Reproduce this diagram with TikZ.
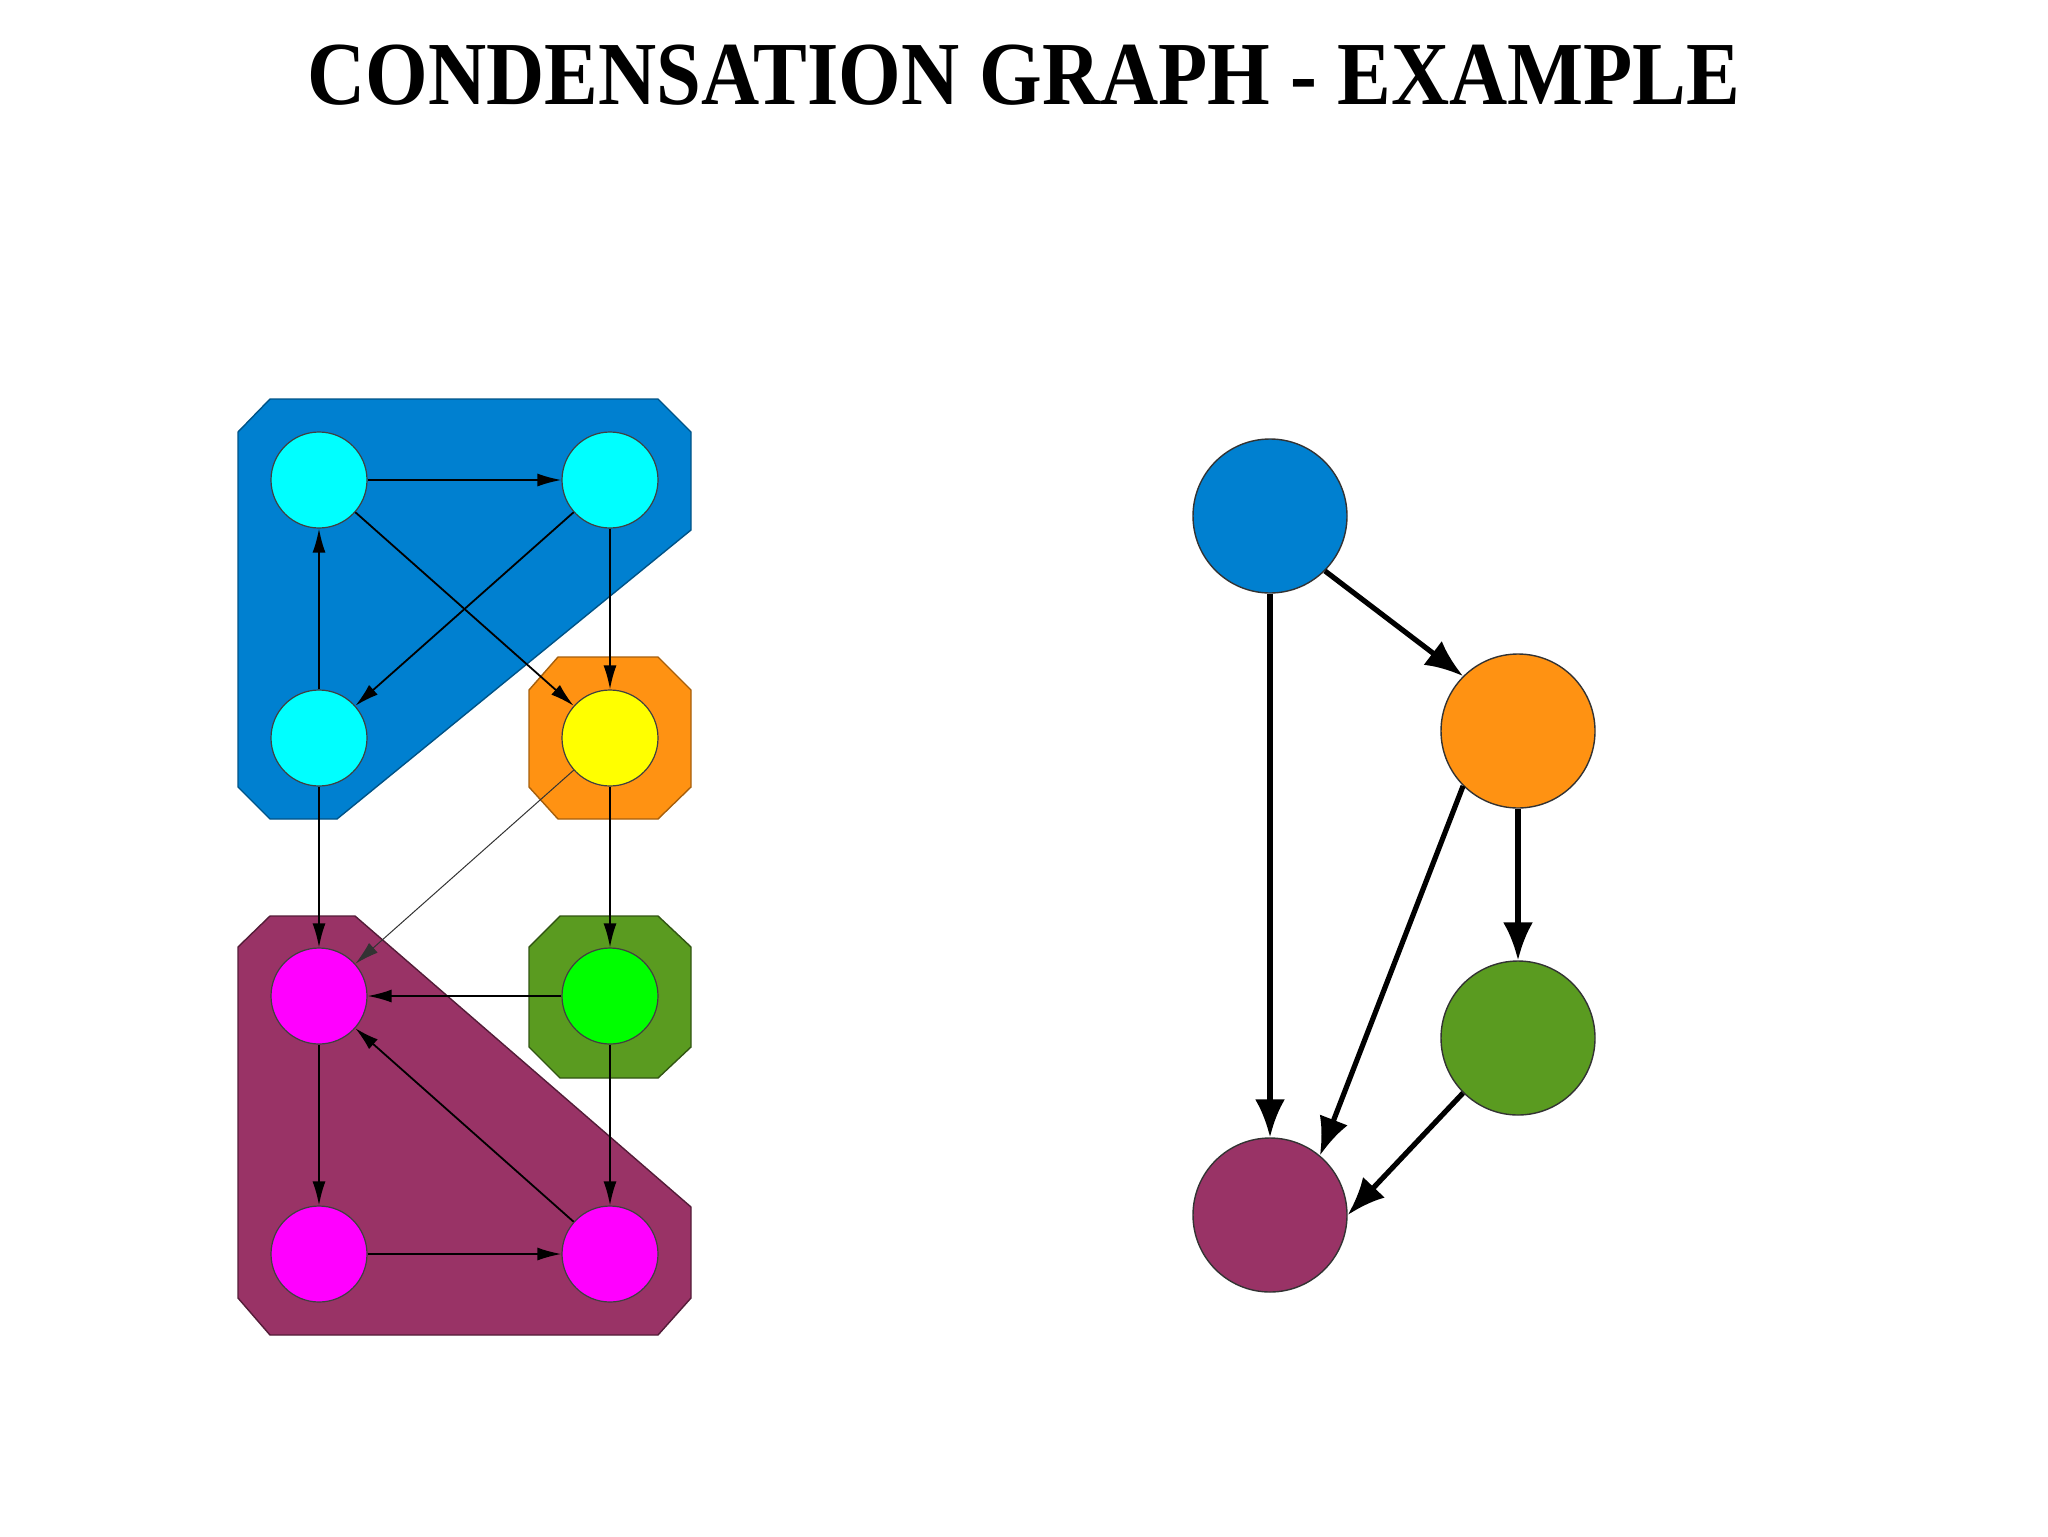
\documentclass[tikz,border=0pt]{standalone}
\usepackage{fontspec}
\setmainfont{Liberation Serif}
\usetikzlibrary{arrows.meta}
\definecolor{cblue}{RGB}{0,128,208}
\definecolor{ccyan}{RGB}{0,255,255}
\definecolor{cyel}{RGB}{255,255,0}
\definecolor{corange}{RGB}{255,146,18}
\definecolor{cgreen}{RGB}{90,155,32}
\definecolor{clime}{RGB}{0,255,0}
\definecolor{cpurple}{RGB}{153,51,102}
\definecolor{cmag}{RGB}{255,0,255}
\tikzset{
  vsmall/.style={circle,inner sep=0pt,minimum size=48pt,draw=black!75,line width=0.6pt},
  vbig/.style={circle,inner sep=0pt,minimum size=77pt,draw=black!80,line width=0.7pt},
  thinedge/.style={line width=0.9pt,-{Latex[length=12pt,width=6.5pt]}},
  faintedge/.style={line width=0.5pt,draw=black!80,-{Latex[length=12pt,width=6.5pt]}},
  thickedge/.style={line width=2.6pt,-{Latex[length=19pt,width=15pt]}},
  cluster/.style={line width=0.7pt}
}
\begin{document}
\begin{tikzpicture}[x=0.5pt,y=-0.5pt]
\useasboundingbox (0,0) rectangle (2048,1536);
% title
\node (title) at (1024,75) {\scalebox{0.895}[1]{\fontsize{45pt}{50pt}\selectfont\bfseries CONDENSATION GRAPH - EXAMPLE}};
% clusters
\path[fill=cblue,draw=cblue!65!black,cluster] (270,399) -- (658,399) -- (691,432) -- (691,530) -- (337,819) -- (270,819) -- (238,787) -- (238,432) -- cycle;
\path[fill=corange,draw=corange!65!black,cluster] (558,657) -- (658,657) -- (691,690) -- (691,787) -- (658,819) -- (558,819) -- (529,787) -- (529,690) -- cycle;
\path[fill=cgreen,draw=cgreen!55!black,cluster] (560,916) -- (658,916) -- (691,947) -- (691,1047) -- (658,1078) -- (560,1078) -- (529,1047) -- (529,947) -- cycle;
\path[fill=cpurple,draw=cpurple!55!black,cluster] (270,916) -- (355,916) -- (691,1207) -- (691,1298) -- (658,1335) -- (270,1335) -- (238,1298) -- (238,947) -- cycle;
% left nodes
\node[vsmall,fill=ccyan] (a) at (319,480) {};
\node[vsmall,fill=ccyan] (b) at (610,480) {};
\node[vsmall,fill=ccyan] (c) at (319,738) {};
\node[vsmall,fill=cyel] (d) at (610,738) {};
\node[vsmall,fill=cmag] (e) at (319,996) {};
\node[vsmall,fill=clime] (f) at (610,996) {};
\node[vsmall,fill=cmag] (g) at (319,1254) {};
\node[vsmall,fill=cmag] (h) at (610,1254) {};
% left edges
\draw[thinedge] (a) -- (b);
\draw[thinedge] (a) -- (d);
\draw[thinedge] (b) -- (c);
\draw[thinedge] (b) -- (d);
\draw[thinedge] (c) -- (a);
\draw[thinedge] (c) -- (e);
\draw[faintedge] (d) -- (e);
\draw[thinedge] (d) -- (f);
\draw[thinedge] (f) -- (e);
\draw[thinedge] (f) -- (h);
\draw[thinedge] (e) -- (g);
\draw[thinedge] (g) -- (h);
\draw[thinedge] (h) -- (e);
% right nodes
\node[vbig,fill=cblue] (B) at (1270,516) {};
\node[vbig,fill=corange] (O) at (1518,731) {};
\node[vbig,fill=cgreen] (G) at (1518,1038) {};
\node[vbig,fill=cpurple] (P) at (1270,1215) {};
% right edges
\draw[thickedge] (B.-45) -- (O.135);
\draw[thickedge] (B) -- (P);
\draw[thickedge] (O.225) -- (P.50);
\draw[thickedge] (O) -- (G);
\draw[thickedge] (G.225) -- (P.east);
\end{tikzpicture}
\end{document}
